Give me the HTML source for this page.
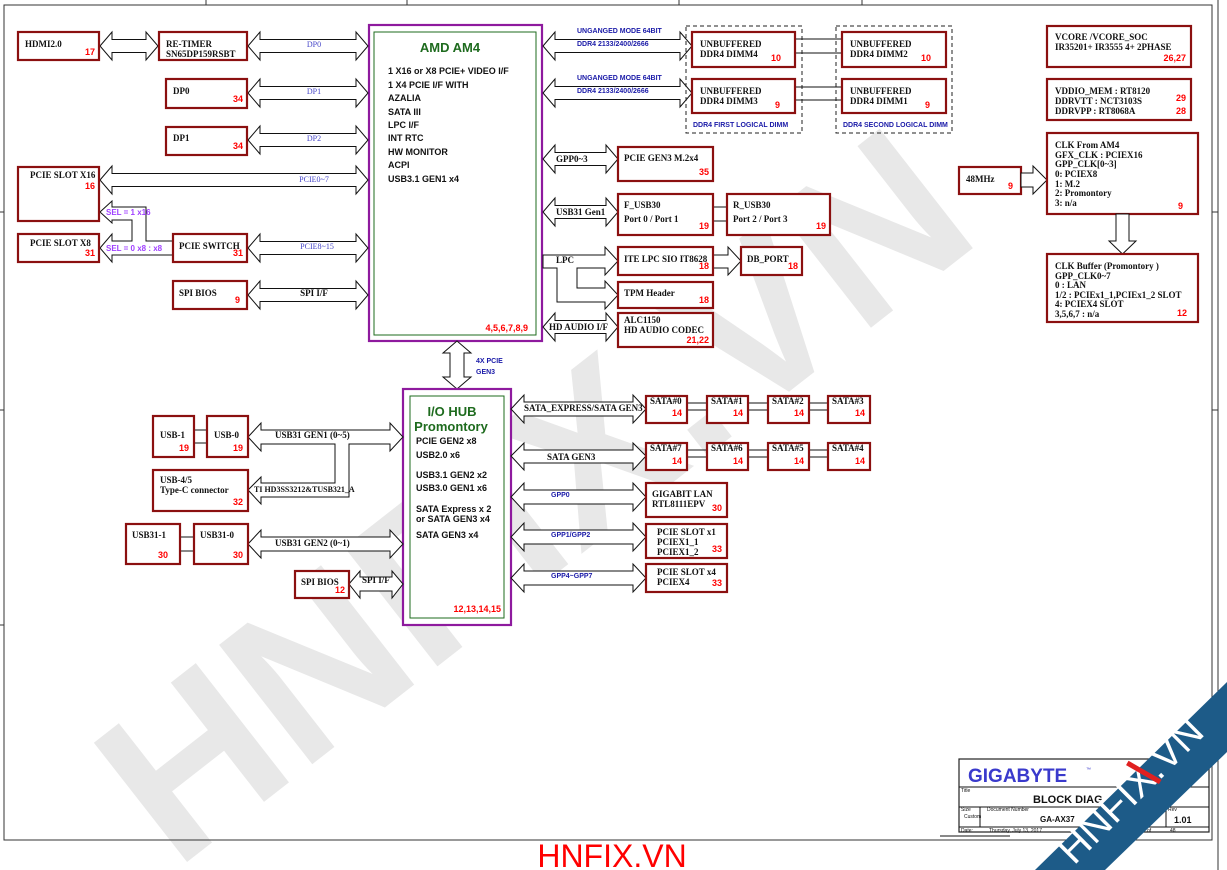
<!DOCTYPE html>
<html><head><meta charset="utf-8">
<style>
html,body{margin:0;padding:0;background:#fff;width:1227px;height:870px;overflow:hidden;}
svg{display:block;}
.b{fill:#fff;stroke:#8b1010;stroke-width:2.2;}
.a{fill:#fff;stroke:#111;stroke-width:1;}
.t{font-family:"Liberation Serif",serif;font-weight:bold;font-size:9px;fill:#111;}
.s{font-family:"Liberation Sans",sans-serif;font-weight:bold;font-size:9px;fill:#111;}
.r{font-family:"Liberation Sans",sans-serif;font-weight:bold;font-size:9px;fill:#f00;text-anchor:end;}
.bl{font-family:"Liberation Sans",sans-serif;font-weight:bold;font-size:7px;fill:#1a1aa8;}
.lb{font-family:"Liberation Serif",serif;font-size:8px;fill:#4545c8;}
.pu{font-family:"Liberation Sans",sans-serif;font-weight:bold;font-size:8px;fill:#a040ff;}
.ln{stroke:#111;stroke-width:1;fill:none;}
</style></head>
<body>
<svg width="1227" height="870" viewBox="0 0 1227 870" xmlns="http://www.w3.org/2000/svg">
<rect width="1227" height="870" fill="#fff"/>
<!-- watermark -->
<text x="0" y="0" transform="translate(580,555) rotate(-38)" text-anchor="middle" font-family="Liberation Sans,sans-serif" font-weight="bold" font-size="220" fill="#e8e8e8">HNFIX.VN</text>

<!-- frame -->
<rect x="4" y="5" width="1208" height="835" fill="none" stroke="#333" stroke-width="1"/>
<line x1="1218" y1="0" x2="1218" y2="870" stroke="#333"/>
<line x1="206" y1="0" x2="206" y2="5" stroke="#333"/><line x1="407" y1="0" x2="407" y2="5" stroke="#333"/>
<line x1="679" y1="0" x2="679" y2="5" stroke="#333"/><line x1="862" y1="0" x2="862" y2="5" stroke="#333"/>
<line x1="0" y1="212" x2="4" y2="212" stroke="#333"/><line x1="0" y1="410" x2="4" y2="410" stroke="#333"/><line x1="0" y1="625" x2="4" y2="625" stroke="#333"/>
<line x1="1212" y1="212" x2="1218" y2="212" stroke="#333"/><line x1="1212" y1="410" x2="1218" y2="410" stroke="#333"/>

<!-- AM4 -->
<rect x="369" y="25" width="173" height="316" fill="#fff" stroke="#8e1a9e" stroke-width="2.2"/>
<rect x="374" y="32" width="162" height="303" fill="none" stroke="#1e6b1e" stroke-width="1"/>
<text x="450" y="52" text-anchor="middle" font-family="Liberation Sans,sans-serif" font-weight="bold" font-size="13" fill="#1e6b1e">AMD AM4</text>
<g class="s">
<text x="388" y="74">1 X16 or X8 PCIE+ VIDEO I/F</text>
<text x="388" y="88">1 X4 PCIE I/F WITH</text>
<text x="388" y="101">AZALIA</text>
<text x="388" y="115">SATA III</text>
<text x="388" y="128">LPC I/F</text>
<text x="388" y="141">INT RTC</text>
<text x="388" y="155">HW MONITOR</text>
<text x="388" y="168">ACPI</text>
<text x="388" y="182">USB3.1 GEN1   x4</text>
</g>
<text class="r" x="528" y="331">4,5,6,7,8,9</text>

<!-- left arrows top -->
<polygon class="a" points="100,46 112,32 112,39.5 146,39.5 146,32 158,46 146,60 146,52.5 112,52.5 112,60"/>
<polygon class="a" points="248,46 260,32 260,39.5 356,39.5 356,32 368,46 356,60 356,52.5 260,52.5 260,60"/>
<polygon class="a" points="248,93 260,79 260,86.5 356,86.5 356,79 368,93 356,107 356,99.5 260,99.5 260,107"/>
<polygon class="a" points="248,140 260,126 260,133.5 356,133.5 356,126 368,140 356,154 356,146.5 260,146.5 260,154"/>
<polygon class="a" points="100,180 112,166 112,173.5 356,173.5 356,166 368,180 356,194 356,186.5 112,186.5 112,194"/>
<polygon class="a" points="248,248 260,234 260,241.5 356,241.5 356,234 368,248 356,262 356,254.5 260,254.5 260,262"/>
<polygon class="a" points="248,295 260,281 260,288.5 356,288.5 356,281 368,295 356,309 356,301.5 260,301.5 260,309"/>
<polygon class="a" points="100,212 112,201 112,207 146,207 146,241 173,241 173,255 112,255 112,262 100,248 112,234 112,241 132,241 132,220 112,220 112,223"/>
<text class="lb" x="314" y="47" text-anchor="middle">DP0</text>
<text class="lb" x="314" y="94" text-anchor="middle">DP1</text>
<text class="lb" x="314" y="141" text-anchor="middle">DP2</text>
<text class="lb" x="314" y="182" text-anchor="middle">PCIE0~7</text>
<text class="lb" x="317" y="249" text-anchor="middle">PCIE8~15</text>
<text class="t" x="314" y="296" text-anchor="middle">SPI I/F</text>
<text class="pu" x="106" y="215">SEL = 1 x16</text>
<text class="pu" x="106" y="251">SEL = 0 x8 : x8</text>

<!-- left boxes -->
<rect class="b" x="18" y="32" width="81" height="28"/><text class="t" x="25" y="47">HDMI2.0</text><text class="r" x="95" y="55">17</text>
<rect class="b" x="159" y="32" width="88" height="28"/><text class="t" x="166" y="47">RE-TIMER</text><text class="t" x="166" y="57">SN65DP159RSBT</text>
<rect class="b" x="166" y="79" width="81" height="29"/><text class="t" x="173" y="94">DP0</text><text class="r" x="243" y="102">34</text>
<rect class="b" x="166" y="127" width="81" height="28"/><text class="t" x="173" y="141">DP1</text><text class="r" x="243" y="149">34</text>
<rect class="b" x="18" y="167" width="81" height="54"/><text class="t" x="30" y="178">PCIE SLOT X16</text><text class="r" x="95" y="189">16</text>
<rect class="b" x="18" y="234" width="81" height="28"/><text class="t" x="30" y="246">PCIE SLOT X8</text><text class="r" x="95" y="256">31</text>
<rect class="b" x="173" y="234" width="74" height="28"/><text class="t" x="179" y="249">PCIE SWITCH</text><text class="r" x="243" y="256">31</text>
<rect class="b" x="173" y="281" width="74" height="28"/><text class="t" x="179" y="296">SPI BIOS</text><text class="r" x="240" y="303">9</text>

<!-- DDR -->
<polygon class="a" points="543,46 555,32 555,39.5 680,39.5 680,32 692,46 680,60 680,52.5 555,52.5 555,60"/>
<polygon class="a" points="543,93 555,79 555,86.5 680,86.5 680,79 692,93 680,107 680,99.5 555,99.5 555,107"/>
<text class="bl" x="577" y="33">UNGANGED MODE 64BIT</text><text class="bl" x="577" y="46">DDR4 2133/2400/2666</text>
<text class="bl" x="577" y="80">UNGANGED MODE 64BIT</text><text class="bl" x="577" y="93">DDR4 2133/2400/2666</text>
<rect x="686" y="26" width="116" height="107" fill="none" stroke="#222" stroke-dasharray="4,3"/>
<rect x="836" y="26" width="116" height="107" fill="none" stroke="#222" stroke-dasharray="4,3"/>
<line class="ln" x1="795" y1="39" x2="842" y2="39"/><line class="ln" x1="795" y1="53" x2="842" y2="53"/>
<line class="ln" x1="795" y1="87" x2="842" y2="87"/><line class="ln" x1="795" y1="100" x2="842" y2="100"/>
<rect class="b" x="692" y="32" width="103" height="35"/><text class="t" x="700" y="47">UNBUFFERED</text><text class="t" x="700" y="57">DDR4 DIMM4</text><text class="r" x="781" y="61">10</text>
<rect class="b" x="692" y="79" width="103" height="34"/><text class="t" x="700" y="94">UNBUFFERED</text><text class="t" x="700" y="104">DDR4 DIMM3</text><text class="r" x="780" y="108">9</text>
<rect class="b" x="842" y="32" width="104" height="35"/><text class="t" x="850" y="47">UNBUFFERED</text><text class="t" x="850" y="57">DDR4 DIMM2</text><text class="r" x="931" y="61">10</text>
<rect class="b" x="842" y="79" width="104" height="34"/><text class="t" x="850" y="94">UNBUFFERED</text><text class="t" x="850" y="104">DDR4 DIMM1</text><text class="r" x="930" y="108">9</text>
<text class="bl" x="693" y="127">DDR4 FIRST LOGICAL DIMM</text>
<text class="bl" x="843" y="127">DDR4 SECOND LOGICAL DIMM</text>

<!-- right of AM4 -->
<polygon class="a" points="543,159 555,145 555,152.5 606,152.5 606,145 618,159 606,173 606,165.5 555,165.5 555,173"/>
<polygon class="a" points="543,212 555,198 555,205.5 606,205.5 606,198 618,212 606,226 606,218.5 555,218.5 555,226"/>
<polygon class="a" points="543,327 555,313 555,320.5 606,320.5 606,313 618,327 606,341 606,333.5 555,333.5 555,341"/>
<polygon class="a" points="543,255 605,255 605,247 618,261 605,275 605,268 577,268 577,288 605,288 605,281 618,295 605,309 605,302 557,302 557,268 543,268"/>
<polygon class="a" points="713,255 728,255 728,247 741,261 728,275 728,268 713,268"/>
<text class="t" x="556" y="162">GPP0~3</text>
<text class="t" x="556" y="215">USB31 Gen1</text>
<text class="t" x="556" y="263">LPC</text>
<text class="t" x="549" y="330">HD AUDIO I/F</text>
<rect class="b" x="618" y="147" width="95" height="34"/><text class="t" x="624" y="161">PCIE GEN3  M.2x4</text><text class="r" x="709" y="175">35</text>
<line class="ln" x1="713" y1="207" x2="727" y2="207"/><line class="ln" x1="713" y1="221" x2="727" y2="221"/>
<rect class="b" x="618" y="194" width="95" height="41"/><text class="t" x="624" y="208">F_USB30</text><text class="t" x="624" y="222">Port 0 / Port 1</text><text class="r" x="709" y="229">19</text>
<rect class="b" x="727" y="194" width="103" height="41"/><text class="t" x="733" y="208">R_USB30</text><text class="t" x="733" y="222">Port 2 / Port 3</text><text class="r" x="826" y="229">19</text>
<rect class="b" x="618" y="247" width="95" height="28"/><text class="t" x="624" y="262">ITE LPC SIO IT8628</text><text class="r" x="709" y="269">18</text>
<rect class="b" x="741" y="247" width="61" height="28"/><text class="t" x="747" y="262">DB_PORT</text><text class="r" x="798" y="269">18</text>
<rect class="b" x="618" y="282" width="95" height="26"/><text class="t" x="624" y="296">TPM Header</text><text class="r" x="709" y="303">18</text>
<rect class="b" x="618" y="313" width="95" height="34"/><text class="t" x="624" y="323">ALC1150</text><text class="t" x="624" y="333">HD AUDIO CODEC</text><text class="r" x="709" y="343">21,22</text>

<!-- far right -->
<rect class="b" x="1047" y="26" width="144" height="41"/><text class="t" x="1055" y="40">VCORE /VCORE_SOC</text><text class="t" x="1055" y="50">IR35201+ IR3555  4+ 2PHASE</text><text class="r" x="1186" y="61">26,27</text>
<rect class="b" x="1047" y="79" width="144" height="41"/><text class="t" x="1055" y="94">VDDIO_MEM : RT8120</text><text class="t" x="1055" y="104">DDRVTT : NCT3103S</text><text class="t" x="1055" y="114">DDRVPP : RT8068A</text><text class="r" x="1186" y="101">29</text><text class="r" x="1186" y="114">28</text>
<rect class="b" x="959" y="167" width="62" height="27"/><text class="t" x="966" y="182">48MHz</text><text class="r" x="1013" y="189">9</text>
<polygon class="a" points="1021,173 1033,173 1033,166 1047,180 1033,194 1033,187 1021,187"/>
<rect class="b" x="1047" y="133" width="151" height="81"/>
<text class="t" x="1055" y="148">CLK From AM4</text><text class="t" x="1055" y="158">GFX_CLK :  PCIEX16</text><text class="t" x="1055" y="167">GPP_CLK[0~3]</text><text class="t" x="1055" y="177">0:  PCIEX8</text><text class="t" x="1055" y="187">1:  M.2</text><text class="t" x="1055" y="196">2:  Promontory</text><text class="t" x="1055" y="206">3:  n/a</text><text class="r" x="1183" y="209">9</text>
<polygon class="a" points="1116,214 1129,214 1129,241 1136,241 1122.5,254 1109,241 1116,241"/>
<rect class="b" x="1047" y="254" width="151" height="68"/>
<text class="t" x="1055" y="269">CLK Buffer (Promontory )</text><text class="t" x="1055" y="279">GPP_CLK0~7</text><text class="t" x="1055" y="288">0 : LAN</text><text class="t" x="1055" y="298">1/2 : PCIEx1_1,PCIEx1_2  SLOT</text><text class="t" x="1055" y="307">4:  PCIEX4 SLOT</text><text class="t" x="1055" y="317">3,5,6,7 : n/a</text><text class="r" x="1187" y="316">12</text>

<!-- 4X PCIE -->
<polygon class="a" points="457,341 443,353 450,353 450,377 443,377 457,389 471,377 464,377 464,353 471,353"/>
<text class="bl" x="476" y="363">4X PCIE</text><text class="bl" x="476" y="374">GEN3</text>

<!-- IO HUB -->
<rect x="403" y="389" width="108" height="236" fill="#fff" stroke="#8e1a9e" stroke-width="2.2"/>
<rect x="410" y="396" width="94" height="222" fill="none" stroke="#1e6b1e" stroke-width="1"/>
<text x="452" y="416" text-anchor="middle" font-family="Liberation Sans,sans-serif" font-weight="bold" font-size="13" fill="#1e6b1e">I/O HUB</text>
<text x="451" y="431" text-anchor="middle" font-family="Liberation Sans,sans-serif" font-weight="bold" font-size="13" fill="#1e6b1e">Promontory</text>
<g class="s">
<text x="416" y="444">PCIE GEN2  x8</text>
<text x="416" y="458">USB2.0  x6</text>
<text x="416" y="478">USB3.1 GEN2 x2</text>
<text x="416" y="491">USB3.0 GEN1 x6</text>
<text x="416" y="512">SATA Express  x 2</text>
<text x="416" y="522">or SATA GEN3 x4</text>
<text x="416" y="538">SATA GEN3 x4</text>
</g>
<text class="r" x="501" y="612">12,13,14,15</text>

<!-- IO right arrows -->
<polygon class="a" points="511,409 524,395 524,402 633,402 633,395 646,409 633,423 633,416 524,416 524,423"/>
<polygon class="a" points="511,456 524,443 524,450 633,450 633,443 646,456 633,470 633,463 524,463 524,470"/>
<polygon class="a" points="511,497 524,483 524,490 633,490 633,483 646,497 633,511 633,504 524,504 524,511"/>
<polygon class="a" points="511,537 524,523 524,530 633,530 633,523 646,537 633,551 633,544 524,544 524,551"/>
<polygon class="a" points="511,578 524,564 524,571 633,571 633,564 646,578 633,592 633,585 524,585 524,592"/>
<text class="t" x="524" y="411">SATA_EXPRESS/SATA GEN3</text>
<text class="t" x="547" y="460">SATA GEN3</text>
<text class="bl" x="551" y="497">GPP0</text>
<text class="bl" x="551" y="537">GPP1/GPP2</text>
<text class="bl" x="551" y="578">GPP4~GPP7</text>

<!-- SATA -->
<line class="ln" x1="687" y1="403" x2="828" y2="403"/><line class="ln" x1="687" y1="410" x2="828" y2="410"/>
<line class="ln" x1="687" y1="450" x2="828" y2="450"/><line class="ln" x1="687" y1="457" x2="828" y2="457"/>
<rect class="b" x="646" y="396" width="41" height="27"/><text class="t" x="650" y="404">SATA#0</text><text class="r" x="682" y="416">14</text>
<rect class="b" x="707" y="396" width="41" height="27"/><text class="t" x="711" y="404">SATA#1</text><text class="r" x="743" y="416">14</text>
<rect class="b" x="768" y="396" width="41" height="27"/><text class="t" x="772" y="404">SATA#2</text><text class="r" x="804" y="416">14</text>
<rect class="b" x="828" y="396" width="42" height="27"/><text class="t" x="832" y="404">SATA#3</text><text class="r" x="865" y="416">14</text>
<rect class="b" x="646" y="443" width="41" height="27"/><text class="t" x="650" y="451">SATA#7</text><text class="r" x="682" y="464">14</text>
<rect class="b" x="707" y="443" width="41" height="27"/><text class="t" x="711" y="451">SATA#6</text><text class="r" x="743" y="464">14</text>
<rect class="b" x="768" y="443" width="41" height="27"/><text class="t" x="772" y="451">SATA#5</text><text class="r" x="804" y="464">14</text>
<rect class="b" x="828" y="443" width="42" height="27"/><text class="t" x="832" y="451">SATA#4</text><text class="r" x="865" y="464">14</text>
<rect class="b" x="646" y="483" width="81" height="34"/><text class="t" x="652" y="497">GIGABIT LAN</text><text class="t" x="652" y="507">RTL8111EPV</text><text class="r" x="722" y="511">30</text>
<rect class="b" x="646" y="524" width="81" height="34"/><text class="t" x="657" y="535">PCIE SLOT x1</text><text class="t" x="657" y="545">PCIEX1_1</text><text class="t" x="657" y="555">PCIEX1_2</text><text class="r" x="722" y="552">33</text>
<rect class="b" x="646" y="564" width="81" height="28"/><text class="t" x="657" y="575">PCIE SLOT x4</text><text class="t" x="657" y="585">PCIEX4</text><text class="r" x="722" y="586">33</text>

<!-- left of IO -->
<polygon class="a" points="248,437 261,423 261,430 390,430 390,423 403,437 390,451 390,444 349,444 349,497 261,497 261,504 248,490 261,477 261,483 335,483 335,444 261,444 261,451"/>
<text class="t" x="275" y="438">USB31 GEN1 (0~5)</text>
<text class="t" x="254" y="492" style="font-size:8px">TI HD3SS3212&amp;TUSB321_A</text>
<polygon class="a" points="248,544 261,530 261,537 390,537 390,530 403,544 390,558 390,551 261,551 261,558"/>
<text class="t" x="275" y="546">USB31 GEN2 (0~1)</text>
<polygon class="a" points="349,584 360,571 360,577 392,577 392,571 403,584 392,598 392,591 360,591 360,598"/>
<text class="t" x="362" y="583">SPI I/F</text>
<line class="ln" x1="194" y1="430" x2="207" y2="430"/><line class="ln" x1="194" y1="443" x2="207" y2="443"/>
<rect class="b" x="153" y="416" width="41" height="41"/><text class="t" x="160" y="438">USB-1</text><text class="r" x="189" y="451">19</text>
<rect class="b" x="207" y="416" width="41" height="41"/><text class="t" x="214" y="438">USB-0</text><text class="r" x="243" y="451">19</text>
<rect class="b" x="153" y="470" width="95" height="41"/><text class="t" x="160" y="483">USB-4/5</text><text class="t" x="160" y="493">Type-C connector</text><text class="r" x="243" y="505">32</text>
<line class="ln" x1="180" y1="537" x2="194" y2="537"/><line class="ln" x1="180" y1="551" x2="194" y2="551"/>
<rect class="b" x="126" y="524" width="54" height="40"/><text class="t" x="132" y="538">USB31-1</text><text class="r" x="168" y="558">30</text>
<rect class="b" x="194" y="524" width="54" height="40"/><text class="t" x="200" y="538">USB31-0</text><text class="r" x="243" y="558">30</text>
<rect class="b" x="295" y="571" width="54" height="27"/><text class="t" x="301" y="585">SPI BIOS</text><text class="r" x="345" y="593">12</text>

<!-- title block -->
<rect x="959" y="759" width="250" height="73" fill="#fff" stroke="#222" stroke-width="1.2"/>
<line class="ln" x1="959" y1="787" x2="1209" y2="787"/>
<line class="ln" x1="959" y1="807" x2="1209" y2="807"/>
<line class="ln" x1="959" y1="827" x2="1209" y2="827"/>
<line class="ln" x1="980" y1="807" x2="980" y2="827"/>
<line class="ln" x1="1166" y1="807" x2="1166" y2="827"/>
<line class="ln" x1="940" y1="836" x2="1010" y2="836"/>
<text x="968" y="782" font-family="Liberation Sans,sans-serif" font-weight="bold" font-size="19" fill="#3a3acc">GIGABYTE</text>
<text x="1086" y="771" font-family="Liberation Sans,sans-serif" font-size="5" fill="#3a3acc">™</text>
<g font-family="Liberation Sans,sans-serif" font-size="5" fill="#111">
<text x="961" y="792">Title</text><text x="961" y="811">Size</text><text x="964" y="818">Custom</text><text x="987" y="811">Document Number</text><text x="1168" y="811">Rev</text>
<text x="961" y="832">Date:</text><text x="989" y="832">Thursday, July 13, 2017</text><text x="1130" y="832">3</text><text x="1147" y="832">of</text><text x="1170" y="832">48</text>
</g>
<text x="1033" y="803" font-family="Liberation Sans,sans-serif" font-weight="bold" font-size="11" fill="#111">BLOCK DIAG</text>
<text x="1040" y="822" font-family="Liberation Sans,sans-serif" font-weight="bold" font-size="8" fill="#111">GA-AX37</text>
<text x="1174" y="823" font-family="Liberation Sans,sans-serif" font-weight="bold" font-size="9" fill="#111">1.01</text>

<!-- corner ribbon -->
<polygon points="1035,870 1105,870 1227,752 1227,682" fill="#1d5b88"/>
<text x="0" y="0" transform="translate(1140,800) rotate(-45)" text-anchor="middle" font-family="Liberation Sans,sans-serif" font-size="40" fill="#fff">HNFIX.VN</text>
<rect x="1125" y="770" width="38" height="5" fill="#e02020" transform="rotate(30 1144 772)"/>

<text x="612" y="867" text-anchor="middle" font-family="Liberation Sans,sans-serif" font-size="32" fill="#f00">HNFIX.VN</text>
</svg>
</body></html>
